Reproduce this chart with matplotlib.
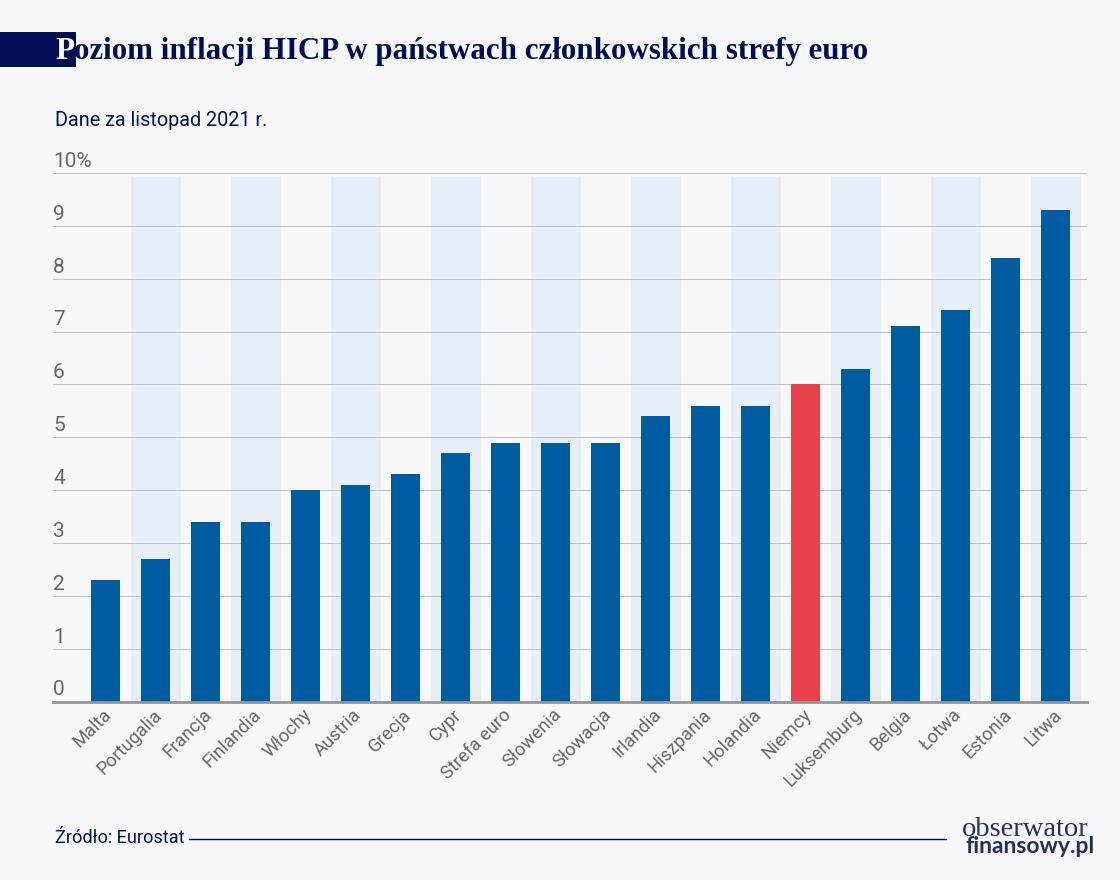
import matplotlib
matplotlib.use("Agg")
import matplotlib.pyplot as plt
from matplotlib.patches import Rectangle
from matplotlib.lines import Line2D
from matplotlib.transforms import ScaledTranslation

countries = ["Malta", "Portugalia", "Francja", "Finlandia", "Włochy", "Austria", "Grecja",
             "Cypr", "Strefa euro", "Słowenia", "Słowacja", "Irlandia", "Hiszpania", "Holandia",
             "Niemcy", "Luksemburg", "Belgia", "Łotwa", "Estonia", "Litwa"]
inflation = [2.3, 2.7, 3.4, 3.4, 4.0, 4.1, 4.3, 4.7, 4.9, 4.9, 4.9, 5.4, 5.6, 5.6, 6.0, 6.3, 7.1, 7.4, 8.4, 9.3]
y_labels = ["0", "1", "2", "3", "4", "5", "6", "7", "8", "9", "10%"]
highlight = "Niemcy"

W, H = 1120, 880
BG = "#f7f8fa"
NAVY = "#000f55"
BLUE = "#005ca1"
RED = "#e8414a"
BAND = "#e8eef6"
GREY = "#666666"

fig = plt.figure(figsize=(W / 100, H / 100), dpi=100, facecolor=BG)

# axes placed in pixels
left, right, top, bottom = 53, 1087, 173, 701.5
ax = fig.add_axes([left / W, 1 - bottom / H, (right - left) / W, (bottom - top) / H], facecolor=BG)

xs = list(range(len(countries)))
ax.set_xlim((left - 105.5) / 50, (right - 105.5) / 50)
ax.set_ylim(0, 10)

# alternating bands behind the bars
for x in xs[1::2]:
    ax.bar(x, 9.93, width=1.0, color=BAND, zorder=1)

ax.set_yticks(range(11))
ax.set_yticklabels([])
ax.grid(axis="y", color="#c0c2c9", linewidth=0.75, zorder=2)
ax.set_axisbelow(False)

colors = [RED if c == highlight else BLUE for c in countries]
ax.bar(xs, inflation, width=0.58, color=colors, zorder=3)

for v, lab in zip(range(11), y_labels):
    ax.annotate(lab, (0, v), xycoords=("axes fraction", "data"), xytext=(0, 1.5), textcoords="offset points",
                ha="left", va="bottom", fontsize=15, color=GREY, family="Roboto")

ax.set_xticks(xs)
ax.set_xticklabels(countries, rotation=45, ha="right", rotation_mode="anchor",
                   fontsize=13.2, color=GREY, family="Roboto")
ax.tick_params(axis="x", length=0, pad=3)
ax.tick_params(axis="y", length=0)
# nudge the rotated labels left
for lab in ax.get_xticklabels():
    lab.set_transform(lab.get_transform() + ScaledTranslation(-3 / 100, 0, fig.dpi_scale_trans))
for s in ["top", "left", "right"]:
    ax.spines[s].set_visible(False)
ax.spines["bottom"].set_color("#949494")
ax.spines["bottom"].set_linewidth(2)
ax.spines["bottom"].set_zorder(5)

# header
fig.add_artist(Rectangle((0, 1 - 67 / H), 76 / W, 35 / H, transform=fig.transFigure, color=NAVY, lw=0))
fig.text(55 / W, 1 - 59 / H, "P", fontsize=22.3, fontweight="bold", family="Liberation Serif", color="white")
fig.text(74 / W, 1 - 59 / H, "oziom inflacji HICP w państwach członkowskich strefy euro", fontsize=22.3,
         fontweight="bold", family="Liberation Serif", color=NAVY)
fig.text(55 / W, 1 - 126 / H, "Dane za listopad 2021 r.", fontsize=14.3, family="Roboto", color=NAVY)

# footer
fig.text(55 / W, 1 - 843 / H, "Źródło: Eurostat", fontsize=13.1, family="Roboto", color=NAVY)
fig.add_artist(Line2D([189 / W, 946 / W], [1 - 838.5 / H] * 2, color=NAVY, linewidth=1))
fig.text(1089 / W, 1 - 835.5 / H, "obserwator", fontsize=20.5, family="Liberation Serif", color="#262f5c", ha="right")
fig.text(1095 / W, 1 - 853 / H, "finansowy.pl", fontsize=16.5, fontweight="bold", family="Lato",
         color="#262f5c", ha="right")

fig.savefig("out.png", dpi=100, facecolor=BG)
